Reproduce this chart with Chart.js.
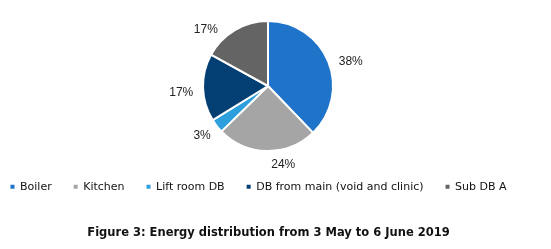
<!DOCTYPE html>
<html>
<head>
<meta charset="utf-8">
<script src="https://cdn.jsdelivr.net/npm/chart.js@4"></script>
<style>
	html, body { margin: 0; padding: 0; background: #fff; }
	#wrap { position: relative; width: 551px; height: 249px; }
</style>
</head>
<body>
<div id="wrap"><canvas id="pieChart" width="551" height="249"></canvas></div>
<script>
// Energy distribution (%)
const categories = ["Boiler", "Kitchen", "Lift room DB", "DB from main (void and clinic)", "Sub DB A"];
const shares = [37.8, 24.9, 3.5, 16.8, 17.0];
const shareLabels = ["38%", "24%", "3%", "17%", "17%"];
const sliceColors = ["#1F73C9", "#A5A5A5", "#2C9FDC", "#043F74", "#646464"];

document.addEventListener('DOMContentLoaded', function() {
	try
	{
		const ctx = document.getElementById("pieChart").getContext("2d");

		// put the pie, legend and caption where the figure has them
		const placeBoxes = {
			id: 'placeBoxes',
			afterLayout(chart) {
				chart.chartArea = { left: 168, right: 368, top: 6, bottom: 166, width: 200, height: 160 };
				chart.legend.left -= 17;
				chart.legend.right -= 17;
				chart.titleBlock.left -= 7;
				chart.titleBlock.right -= 7;
			}
		};

		// percentage labels outside each slice
		const outsideLabels = {
			id: 'outsideLabels',
			afterDatasetsDraw(chart, args, opts) {
				const c = chart.ctx;
				const arcs = chart.getDatasetMeta(0).data;
				c.save();
				c.font = opts.font;
				c.fillStyle = opts.color;
				c.textAlign = 'center';
				c.textBaseline = 'middle';
				arcs.forEach((arc, i) => {
					const p = arc.getProps(['x', 'y', 'startAngle', 'endAngle', 'outerRadius'], true);
					const a = (p.startAngle + p.endAngle) / 2 + (opts.nudge[i] || 0) * Math.PI / 180;
					const r = p.outerRadius + opts.gap;
					const w = c.measureText(shareLabels[i]).width;
					const h = 10;
					const x = p.x + Math.cos(a) * r + Math.cos(a) * w / 2;
					const y = p.y + Math.sin(a) * r + Math.sin(a) * h / 2;
					c.fillText(shareLabels[i], x, y);
				});
				c.restore();
			}
		};

		new Chart(ctx, {
			type: "pie",
			data: {
				labels: categories,
				datasets: [{
					data: shares,
					backgroundColor: sliceColors,
					borderColor: "#ffffff",
					borderWidth: 2
				}]
			},
			options: {
				responsive: false,
				animation: false,
				radius: 65,
				layout: { padding: 0 },
				plugins: {
					legend: {
						position: 'bottom',
						labels: {
							boxWidth: 4,
							boxHeight: 4,
							padding: 22,
							color: "#111",
							font: { family: "DejaVu Sans", size: 11 },
							generateLabels: function(chart) {
								return categories.map((label, i) => ({
									text: label,
									fillStyle: sliceColors[i],
									strokeStyle: sliceColors[i],
									lineWidth: 0,
									index: i,
									fontColor: "#111"
								}));
							}
						}
					},
					title: {
						display: true,
						position: 'bottom',
						text: "Figure 3: Energy distribution from 3 May to 6 June 2019",
						color: "#111",
						font: { family: "DejaVu Sans", size: 11.5, weight: 'bold' },
						padding: { top: 24, bottom: 9 }
					},
					tooltip: { enabled: false },
					outsideLabels: {
						font: "12px 'Liberation Sans'",
						color: "#222",
						gap: 10,
						nudge: [4, -11, 0, -3, -15]
					}
				}
			},
			plugins: [placeBoxes, outsideLabels]
		});
	}
	catch (error) {
		console.error("Error loading chart:", error);
	}
});
</script>
</body>
</html>
